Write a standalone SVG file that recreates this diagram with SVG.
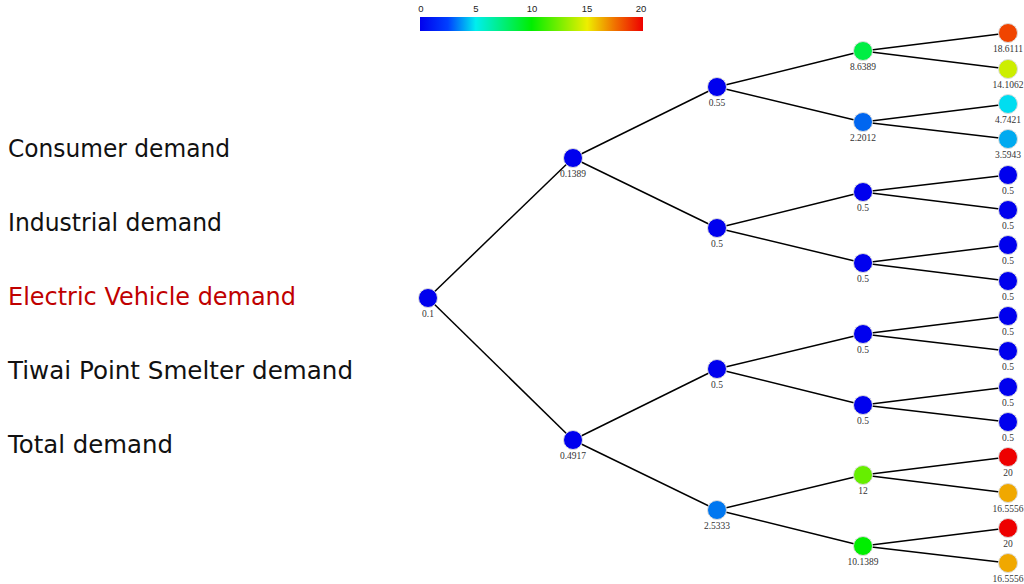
<svg xmlns="http://www.w3.org/2000/svg" width="1024" height="584" viewBox="0 0 1024 584">
  <defs>
    <linearGradient id="jet" x1="0" y1="0" x2="1" y2="0">
      <stop offset="0" stop-color="#0000ee"/>
      <stop offset="0.125" stop-color="#0040ff"/>
      <stop offset="0.25" stop-color="#00eeee"/>
      <stop offset="0.5" stop-color="#00ee00"/>
      <stop offset="0.75" stop-color="#eeee00"/>
      <stop offset="0.875" stop-color="#f07000"/>
      <stop offset="1" stop-color="#ee0000"/>
    </linearGradient>
    <style>
      .menu { font-family: "DejaVu Sans", "Liberation Sans", sans-serif; font-size: 24.5px; fill: #111; }
      .menu.active { fill: #c00000; }
      .tick { font-family: "Liberation Sans", Arial, sans-serif; font-size: 9.5px; fill: #222; text-anchor: middle; }
      .edges line { stroke: #000; stroke-width: 1.5; }
      .node circle { stroke: #dddddd; stroke-width: 1; }
      .node text { font-family: "Liberation Serif", "Times New Roman", serif; font-size: 9.5px; fill: #333; text-anchor: middle; }
    </style>
  </defs>

  <rect width="1024" height="584" fill="#ffffff"/>

  <!-- sidebar menu -->
  <g id="menu">
    <text class="menu" x="8" y="157" textLength="222" lengthAdjust="spacingAndGlyphs">Consumer demand</text>
    <text class="menu" x="8" y="231" textLength="214" lengthAdjust="spacingAndGlyphs">Industrial demand</text>
    <text class="menu active" x="8" y="305" textLength="288" lengthAdjust="spacingAndGlyphs">Electric Vehicle demand</text>
    <text class="menu" x="8" y="379" textLength="345" lengthAdjust="spacingAndGlyphs">Tiwai Point Smelter demand</text>
    <text class="menu" x="8" y="453" textLength="165" lengthAdjust="spacingAndGlyphs">Total demand</text>
  </g>

  <!-- colour scale -->
  <g id="colorbar">
    <rect x="420" y="17" width="223" height="14" fill="url(#jet)"/>
    <text class="tick" x="421" y="12">0</text>
    <text class="tick" x="476" y="12">5</text>
    <text class="tick" x="532" y="12">10</text>
    <text class="tick" x="587" y="12">15</text>
    <text class="tick" x="641" y="12">20</text>
  </g>

  <!-- connectors -->
  <g id="connectors" class="edges">
    <line x1="428" y1="298" x2="573" y2="158"/>
    <line x1="428" y1="298" x2="573" y2="440"/>
    <line x1="573" y1="158" x2="717" y2="87"/>
    <line x1="573" y1="158" x2="717" y2="228"/>
    <line x1="573" y1="440" x2="717" y2="369"/>
    <line x1="573" y1="440" x2="717" y2="510"/>
    <line x1="717" y1="87" x2="863" y2="51"/>
    <line x1="717" y1="87" x2="863" y2="122"/>
    <line x1="717" y1="228" x2="863" y2="192"/>
    <line x1="717" y1="228" x2="863" y2="263"/>
    <line x1="717" y1="369" x2="863" y2="334"/>
    <line x1="717" y1="369" x2="863" y2="405"/>
    <line x1="717" y1="510" x2="863" y2="475"/>
    <line x1="717" y1="510" x2="863" y2="546"/>
    <line x1="863" y1="51" x2="1008" y2="33"/>
    <line x1="863" y1="51" x2="1008" y2="69"/>
    <line x1="863" y1="122" x2="1008" y2="104"/>
    <line x1="863" y1="122" x2="1008" y2="139"/>
    <line x1="863" y1="192" x2="1008" y2="175"/>
    <line x1="863" y1="192" x2="1008" y2="210"/>
    <line x1="863" y1="263" x2="1008" y2="245"/>
    <line x1="863" y1="263" x2="1008" y2="281"/>
    <line x1="863" y1="334" x2="1008" y2="316"/>
    <line x1="863" y1="334" x2="1008" y2="351"/>
    <line x1="863" y1="405" x2="1008" y2="387"/>
    <line x1="863" y1="405" x2="1008" y2="422"/>
    <line x1="863" y1="475" x2="1008" y2="457"/>
    <line x1="863" y1="475" x2="1008" y2="493"/>
    <line x1="863" y1="546" x2="1008" y2="528"/>
    <line x1="863" y1="546" x2="1008" y2="563"/>
  </g>

  <!-- level 0 -->
  <g id="n0" class="node"><circle cx="428" cy="298" r="9.5" fill="#0000ee"/><text x="428" y="317">0.1</text></g>
  <!-- level 1 -->
  <g id="n1" class="node"><circle cx="573" cy="158" r="9.5" fill="#0000ee"/><text x="573" y="177">0.1389</text></g>
  <g id="n2" class="node"><circle cx="573" cy="440" r="9.5" fill="#0000ee"/><text x="573" y="459">0.4917</text></g>
  <!-- level 2 -->
  <g id="n3" class="node"><circle cx="717" cy="87" r="9.5" fill="#0000ee"/><text x="717" y="106">0.55</text></g>
  <g id="n4" class="node"><circle cx="717" cy="228" r="9.5" fill="#0000ee"/><text x="717" y="247">0.5</text></g>
  <g id="n5" class="node"><circle cx="717" cy="369" r="9.5" fill="#0000ee"/><text x="717" y="388">0.5</text></g>
  <g id="n6" class="node"><circle cx="717" cy="510" r="9.5" fill="#0077f0"/><text x="717" y="529">2.5333</text></g>
  <!-- level 3 -->
  <g id="n7" class="node"><circle cx="863" cy="51" r="9.5" fill="#00ee44"/><text x="863" y="70">8.6389</text></g>
  <g id="n8" class="node"><circle cx="863" cy="122" r="9.5" fill="#0066f0"/><text x="863" y="141">2.2012</text></g>
  <g id="n9" class="node"><circle cx="863" cy="192" r="9.5" fill="#0000ee"/><text x="863" y="211">0.5</text></g>
  <g id="n10" class="node"><circle cx="863" cy="263" r="9.5" fill="#0000ee"/><text x="863" y="282">0.5</text></g>
  <g id="n11" class="node"><circle cx="863" cy="334" r="9.5" fill="#0000ee"/><text x="863" y="353">0.5</text></g>
  <g id="n12" class="node"><circle cx="863" cy="405" r="9.5" fill="#0000ee"/><text x="863" y="424">0.5</text></g>
  <g id="n13" class="node"><circle cx="863" cy="475" r="9.5" fill="#66ee00"/><text x="863" y="494">12</text></g>
  <g id="n14" class="node"><circle cx="863" cy="546" r="9.5" fill="#00ee00"/><text x="863" y="565">10.1389</text></g>
  <!-- level 4 (leaves) -->
  <g id="n15" class="node"><circle cx="1008" cy="33" r="9.5" fill="#f04400"/><text x="1008" y="52">18.6111</text></g>
  <g id="n16" class="node"><circle cx="1008" cy="69" r="9.5" fill="#ccee00"/><text x="1008" y="88">14.1062</text></g>
  <g id="n17" class="node"><circle cx="1008" cy="104" r="9.5" fill="#00ddf0"/><text x="1008" y="123">4.7421</text></g>
  <g id="n18" class="node"><circle cx="1008" cy="139" r="9.5" fill="#00aaf0"/><text x="1008" y="158">3.5943</text></g>
  <g id="n19" class="node"><circle cx="1008" cy="175" r="9.5" fill="#0000ee"/><text x="1008" y="194">0.5</text></g>
  <g id="n20" class="node"><circle cx="1008" cy="210" r="9.5" fill="#0000ee"/><text x="1008" y="229">0.5</text></g>
  <g id="n21" class="node"><circle cx="1008" cy="245" r="9.5" fill="#0000ee"/><text x="1008" y="264">0.5</text></g>
  <g id="n22" class="node"><circle cx="1008" cy="281" r="9.5" fill="#0000ee"/><text x="1008" y="300">0.5</text></g>
  <g id="n23" class="node"><circle cx="1008" cy="316" r="9.5" fill="#0000ee"/><text x="1008" y="335">0.5</text></g>
  <g id="n24" class="node"><circle cx="1008" cy="351" r="9.5" fill="#0000ee"/><text x="1008" y="370">0.5</text></g>
  <g id="n25" class="node"><circle cx="1008" cy="387" r="9.5" fill="#0000ee"/><text x="1008" y="406">0.5</text></g>
  <g id="n26" class="node"><circle cx="1008" cy="422" r="9.5" fill="#0000ee"/><text x="1008" y="441">0.5</text></g>
  <g id="n27" class="node"><circle cx="1008" cy="457" r="9.5" fill="#ee0000"/><text x="1008" y="476">20</text></g>
  <g id="n28" class="node"><circle cx="1008" cy="493" r="9.5" fill="#f0a800"/><text x="1008" y="512">16.5556</text></g>
  <g id="n29" class="node"><circle cx="1008" cy="528" r="9.5" fill="#ee0000"/><text x="1008" y="547">20</text></g>
  <g id="n30" class="node"><circle cx="1008" cy="563" r="9.5" fill="#f0a800"/><text x="1008" y="582">16.5556</text></g>
</svg>
